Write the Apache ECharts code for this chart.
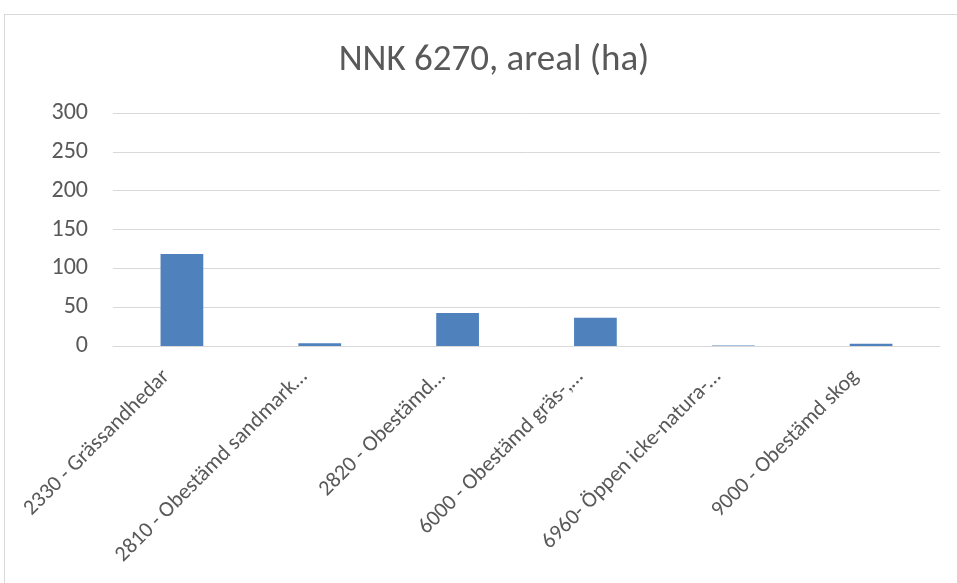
<!DOCTYPE html>
<html>
<head>
<meta charset="utf-8">
<script src="https://cdn.jsdelivr.net/npm/echarts@6/dist/echarts.min.js"></script>
<style>
  html, body { margin: 0; padding: 0; background: #fff; }
  #frame { position: absolute; left: 4px; top: 14px; width: 960px; height: 580px; border: 1px solid #d9d9d9; box-sizing: border-box; }
  #chart { width: 957px; height: 583px; position: absolute; left: 0; top: 0; }
</style>
</head>
<body>
<div id="frame"></div>
<div id="chart"></div>
<script>
const categories = [
    '2330 - Grässandhedar',
    '2810 - Obestämd sandmark…',
    '2820 - Obestämd…',
    '6000 - Obestämd gräs-,…',
    '6960- Öppen icke-natura-…',
    '9000 - Obestämd skog'
];
const areaHa = [118.5, 3.5, 42.5, 36.5, 0.8, 2.8];
const yTicks = { min: 0, max: 300, interval: 50 };

const font = 'Carlito, Lato, sans-serif';
const chart = echarts.init(document.getElementById('chart'));
chart.setOption({
    animation: false,
    title: {
        text: 'NNK 6270, areal (ha)',
        left: 489,
        textAlign: 'center',
        top: 37,
        textStyle: { color: '#595959', fontSize: 37, fontWeight: 'normal', fontFamily: font }
    },
    grid: { left: 113, right: 17, top: 113, bottom: 237 },
    xAxis: {
        type: 'category',
        data: categories,
        axisLine: { lineStyle: { color: '#d9d9d9' } },
        axisTick: { show: false },
        axisLabel: {
            rotate: 45,
            interval: 0,
            color: '#595959',
            fontSize: 22,
            fontFamily: font,
            margin: 12,
            padding: [0, 22, 0, 0]
        }
    },
    yAxis: {
        type: 'value',
        min: yTicks.min,
        max: yTicks.max,
        interval: yTicks.interval,
        axisLine: { show: false },
        axisTick: { show: false },
        splitLine: { lineStyle: { color: '#d9d9d9' } },
        axisLabel: { color: '#595959', fontSize: 24, fontFamily: font, margin: 25 }
    },
    series: [{
        type: 'bar',
        data: areaHa,
        barWidth: '31%',
        itemStyle: { color: '#4f81bd' }
    }]
});
</script>
</body>
</html>
